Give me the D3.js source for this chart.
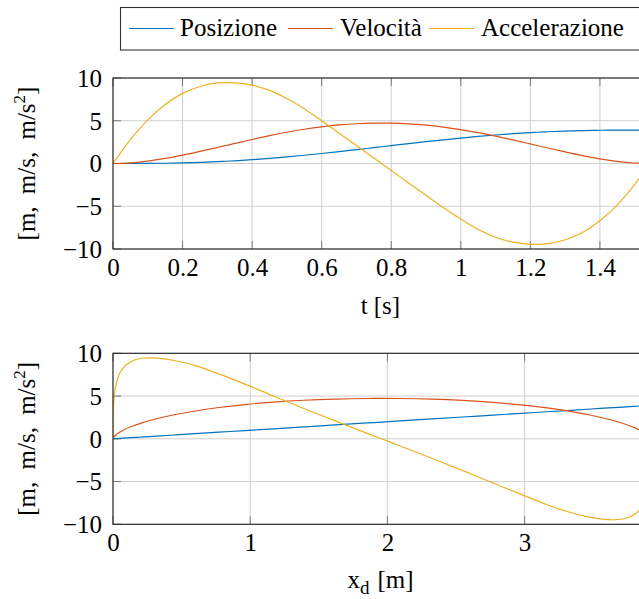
<!DOCTYPE html>
<html>
<head>
<meta charset="utf-8">
<script src="https://cdn.jsdelivr.net/npm/d3@7"></script>
<style>
  html, body { margin: 0; padding: 0; background: #fff; }
  svg text { font-family: "Liberation Serif", "Times New Roman", serif; fill: #000; }
</style>
</head>
<body>
<svg id="chart" width="639" height="599"></svg>
<script>
// ---- data ----
const time = [0, 0.025, 0.05, 0.075, 0.1, 0.15, 0.2, 0.25, 0.3, 0.325, 0.35, 0.4, 0.45, 0.5, 0.55, 0.6, 0.65, 0.7, 0.75, 0.772, 0.8, 0.85, 0.9, 0.95, 1.0, 1.05, 1.1, 1.15, 1.2, 1.219, 1.25, 1.3, 1.35, 1.4, 1.45, 1.5, 1.544];
const posizione = [0, 0.00015, 0.0012, 0.0041, 0.0097, 0.0312, 0.0703, 0.130, 0.212, 0.262, 0.3174, 0.4463, 0.598, 0.771, 0.962, 1.170, 1.390, 1.619, 1.853, 1.957, 2.089, 2.323, 2.551, 2.770, 2.976, 3.165, 3.335, 3.484, 3.610, 3.652, 3.713, 3.792, 3.849, 3.886, 3.906, 3.913, 3.914];
const velocita = [0, 0.018, 0.072, 0.158, 0.278, 0.591, 0.977, 1.41, 1.871, 2.107, 2.344, 2.81, 3.254, 3.658, 4.008, 4.293, 4.507, 4.648, 4.716, 4.723, 4.711, 4.635, 4.485, 4.262, 3.969, 3.612, 3.202, 2.755, 2.287, 2.107, 1.815, 1.357, 0.928, 0.55, 0.247, 0.057, 0];
const accelerazione = [0, 1.43, 2.78, 3.98, 5.1, 6.9, 8.2, 9.0, 9.42, 9.47, 9.44, 9.16, 8.55, 7.6, 6.4, 5.0, 3.55, 2.1, 0.64, 0, -0.81, -2.27, -3.72, -5.17, -6.5, -7.72, -8.62, -9.2, -9.45, -9.47, -9.38, -8.92, -8.07, -6.7, -4.83, -2.46, 0];

const seriesNames = ["Posizione", "Velocità", "Accelerazione"];
const seriesColors = ["#0072BD", "#D95319", "#EDB120"];
const yTicks = [-10, -5, 0, 5, 10];
const xTicksTop = [0, 0.2, 0.4, 0.6, 0.8, 1, 1.2, 1.4];
const xTicksBottom = [0, 1, 2, 3];

const svg = d3.select("#chart");
const FS = 25;
const left = 113, right = 650;

function panel(cfg) {
  const g = svg.append("g");
  const x = d3.scaleLinear().domain(cfg.xDomain).range([left, right]);
  const y = d3.scaleLinear().domain([-10, 10]).range([cfg.bottom, cfg.top]);
  const id = "clip" + cfg.name;
  svg.append("clipPath").attr("id", id).append("rect")
    .attr("x", left).attr("y", cfg.top).attr("width", right - left).attr("height", cfg.bottom - cfg.top);

  // grid
  g.append("g").selectAll("line").data(cfg.xTicks).join("line")
    .attr("x1", d => x(d)).attr("x2", d => x(d)).attr("y1", cfg.top).attr("y2", cfg.bottom)
    .attr("stroke", "#cfcfcf").attr("stroke-width", 1);
  g.append("g").selectAll("line").data(yTicks).join("line")
    .attr("x1", left).attr("x2", right).attr("y1", d => y(d)).attr("y2", d => y(d))
    .attr("stroke", "#cfcfcf").attr("stroke-width", 1);

  // tick marks (inside, both sides)
  const tl = 8;
  const tg = g.append("g").attr("stroke", "#7a7a7a").attr("stroke-width", 1);
  cfg.xTicks.forEach(d => {
    tg.append("line").attr("x1", x(d)).attr("x2", x(d)).attr("y1", cfg.bottom).attr("y2", cfg.bottom - tl);
    tg.append("line").attr("x1", x(d)).attr("x2", x(d)).attr("y1", cfg.top).attr("y2", cfg.top + tl);
  });
  yTicks.forEach(d => {
    tg.append("line").attr("x1", left).attr("x2", left + tl).attr("y1", y(d)).attr("y2", y(d));
    tg.append("line").attr("x1", right).attr("x2", right - tl).attr("y1", y(d)).attr("y2", y(d));
  });

  // lines
  const xs = cfg.xValues;
  const lg = g.append("g").attr("clip-path", `url(#${id})`);
  [posizione, velocita, accelerazione].forEach((vals, i) => {
    const line = d3.line().x((d, k) => x(xs[k])).y(d => y(d)).curve(d3.curveMonotoneX);
    lg.append("path").attr("d", line(vals)).attr("fill", "none")
      .attr("stroke", seriesColors[i]).attr("stroke-width", 1.2);
  });

  // frame
  g.append("rect").attr("x", left).attr("y", cfg.top).attr("width", right - left).attr("height", cfg.bottom - cfg.top)
    .attr("fill", "none").attr("stroke", "#222").attr("stroke-width", 1.1);

  // axes labels via d3 axes
  const ax = d3.axisBottom(x).tickValues(cfg.xTicks).tickSize(0).tickPadding(0).tickFormat(d3.format(""));
  const axg = g.append("g").attr("transform", `translate(0,${cfg.bottom})`).call(ax);
  axg.select(".domain").remove();
  axg.selectAll("text").attr("font-size", FS).attr("dy", null).attr("y", 26.5)
    .style("font-family", '"Liberation Serif", serif').attr("fill", "#000");

  const ay = d3.axisLeft(y).tickValues(yTicks).tickSize(0).tickPadding(0).tickFormat(d3.format(""));
  const ayg = g.append("g").attr("transform", `translate(${left - 11},0)`).call(ay);
  ayg.select(".domain").remove();
  ayg.selectAll("text").attr("font-size", FS).attr("dy", "0.33em")
    .style("font-family", '"Liberation Serif", serif').attr("fill", "#000");

  // y title
  const cy = (cfg.top + cfg.bottom) / 2;
  const yt = g.append("text").attr("transform", `translate(35,${cy}) rotate(-90)`)
    .attr("text-anchor", "middle").attr("font-size", FS);
  yt.append("tspan").text("[m,");
  yt.append("tspan").attr("dx", 6).text(" m/s,");
  yt.append("tspan").attr("dx", 6).text(" m/s");
  yt.append("tspan").attr("font-size", 17).attr("dy", -10).text("2");
  yt.append("tspan").attr("dy", 10).text("]");

  // x title
  const xt = g.append("text").attr("x", (left + right) / 2 - 1).attr("y", cfg.xTitleY)
    .attr("text-anchor", "middle").attr("font-size", FS);
  cfg.xTitle(xt);
}

panel({
  name: "top", top: 78, bottom: 249, xDomain: [0, 1.544], xTicks: xTicksTop, xValues: time,
  xTitleY: 314, xTitle: t => {
    t.append("tspan").text("t");
    t.append("tspan").attr("dx", 6).text("[s]");
  }
});
panel({
  name: "bot", top: 353.3, bottom: 524.3, xDomain: [0, 3.914], xTicks: xTicksBottom, xValues: posizione,
  xTitleY: 588, xTitle: t => {
    t.append("tspan").text("x");
    t.append("tspan").attr("font-size", 19).attr("dy", 6).text("d");
    t.append("tspan").attr("dy", -6).attr("dx", 8).text("[m]");
  }
});

// legend
const leg = svg.append("g");
leg.append("rect").attr("x", 120.5).attr("y", 7.5).attr("width", 530).attr("height", 42.5)
  .attr("fill", "#fff").attr("stroke", "#333").attr("stroke-width", 1.1);
const legLines = [129, 288, 429];
const legText = [180, 340, 481];
seriesNames.forEach((n, i) => {
  leg.append("line").attr("x1", legLines[i]).attr("x2", legLines[i] + 45).attr("y1", 28.5).attr("y2", 28.5)
    .attr("stroke", seriesColors[i]).attr("stroke-width", 1.2);
  leg.append("text").attr("x", legText[i]).attr("y", 36).attr("font-size", FS).text(n);
});
</script>
</body>
</html>
